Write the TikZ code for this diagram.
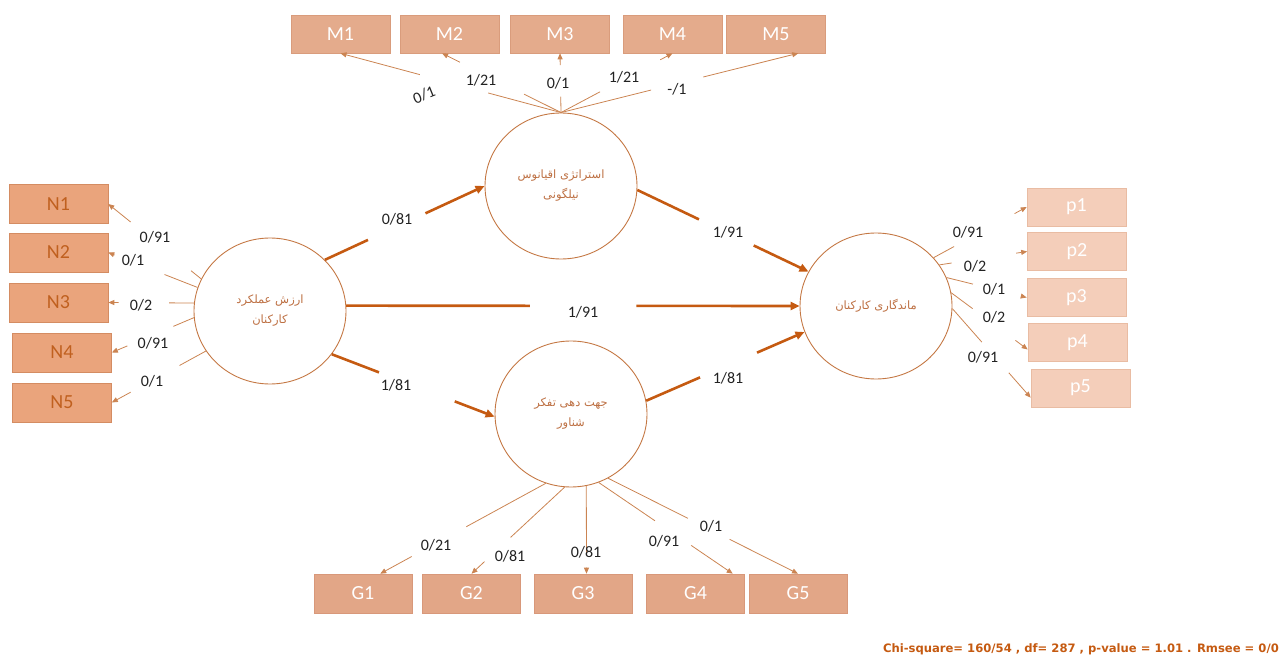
\documentclass[tikz,border=0pt]{standalone}
\usepackage{graphicx}
\usepackage{fontspec}
\setmainfont{Carlito}
\newfontfamily\fa[Script=Arabic]{DejaVu Sans}
\newfontfamily\statfont{DejaVu Sans}
\TeXXeTstate=1
\usetikzlibrary{arrows.meta,shapes.geometric}

\definecolor{pathc}{HTML}{C55A11}
\definecolor{loadc}{HTML}{CB8452}
\definecolor{circc}{HTML}{C47844}
\definecolor{circt}{HTML}{BD7043}
\definecolor{labc}{HTML}{222222}
\definecolor{nfill}{HTML}{EAA47C}
\definecolor{nedge}{HTML}{D48C62}
\definecolor{ntext}{HTML}{C0601F}
\definecolor{mfill}{HTML}{E4AB8C}
\definecolor{medge}{HTML}{D99C7C}
\definecolor{gfill}{HTML}{E2A687}
\definecolor{gedge}{HTML}{D8987A}
\definecolor{pfill}{HTML}{F4CEBA}
\definecolor{pedge}{HTML}{E9BCA3}

% line from #2 to #3 with a gap between pos #4 and pos #5; the second part carries the tip
\newcommand\gapline[5]{%
  \path (#2) -- coordinate[pos=#4] (g-a) coordinate[pos=#5] (g-b) (#3);
  \draw[#1,-] (#2) -- (g-a);
  \draw[#1] (g-b) -- (#3);}

\begin{document}
\begin{tikzpicture}[x=1pt,y=-1pt,
  lat/.style={ellipse, draw=circc, line width=0.9pt, minimum width=152pt,
    minimum height=146pt, inner sep=0pt, align=center, text=circt,
    font=\fa\fontsize{11.5}{20}\selectfont},
  box/.style={rectangle, minimum width=99pt, minimum height=38pt, inner sep=0pt,
    font=\fontsize{20}{20}\selectfont, line width=0.6pt},
  nbox/.style={box, fill=nfill, draw=nedge, text=ntext, minimum height=39pt},
  mbox/.style={box, fill=mfill, draw=medge, text=white},
  gbox/.style={box, fill=gfill, draw=gedge, text=white, minimum width=98pt, minimum height=39pt},
  pbox/.style={box, fill=pfill, draw=pedge, text=white},
  coef/.style={font=\fontsize{16}{16}\selectfont, text=labc, inner sep=1pt},
  structln/.style={draw=pathc, line width=2.6pt, -{Triangle[length=9pt,width=8pt]}},
  loadln/.style={draw=loadc, line width=0.8pt, -{Triangle[length=6pt,width=5pt]}}]

\useasboundingbox (0,0) rectangle (1282,660);

% latent constructs
\node[lat] (L) at (270,311) {\beginR ارزش عملکرد\endR\\\beginR کارکنان\endR};
\node[lat] (T) at (561,186) {\beginR استراتژی اقیانوس\endR\\\beginR نیلگونی\endR};
\node[lat] (B) at (571,414) {\beginR جهت دهی تفکر\endR\\\beginR شناور\endR};
\node[lat] (R) at (876,306) {\beginR ماندگاری کارکنان\endR};

% indicators
\node[mbox] (M1) at (340.5,34) {M1};
\node[mbox] (M2) at (449.5,34) {M2};
\node[mbox] (M3) at (560,34) {M3};
\node[mbox] (M4) at (672.5,34) {M4};
\node[mbox] (M5) at (776,34) {M5};

\node[nbox] (N1) at (58.5,204) {N1};
\node[nbox] (N2) at (58.5,252.5) {N2};
\node[nbox] (N3) at (58.5,302.5) {N3};
\node[nbox] (N4) at (62,352.5) {N4};
\node[nbox] (N5) at (62,402.5) {N5};

\node[pbox] (p1) at (1076.5,207) {p1};
\node[pbox] (p2) at (1077,251.5) {p2};
\node[pbox] (p3) at (1076.5,297.5) {p3};
\node[pbox] (p4) at (1077.5,342.5) {p4};
\node[pbox] (p5) at (1080.5,388) {p5};

\node[gbox] (G1) at (363,593.5) {G1};
\node[gbox] (G2) at (471.5,593.5) {G2};
\node[gbox] (G3) at (583,593.5) {G3};
\node[gbox] (G4) at (695.5,593.5) {G4};
\node[gbox] (G5) at (798,593.5) {G5};

% structural paths
\gapline{structln}{L.43}{T.180}{0.27}{0.63}
\gapline{structln}{T.-3}{R.153}{0.36}{0.68}
\gapline{structln}{L.4}{R.west}{0.405}{0.64}
\gapline{structln}{L.-35}{B.182}{0.29}{0.755}
\gapline{structln}{B.10}{R.-160}{0.34}{0.70}

\node[coef] (cLT) at (397,219) {0/81};
\node[coef] (cTR) at (728,232) {1/91};
\node[coef] (cLR) at (583,312) {1/91};
\node[coef] (cLB) at (396,385) {1/81};
\node[coef] (cBR) at (728,378) {1/81};

% loadings of the upper construct
\gapline{loadln}{T.north}{M1.south}{0.33}{0.64}
\gapline{loadln}{T.north}{M2.-111}{0.31}{0.85}
\gapline{loadln}{T.north}{M3.south}{0.27}{0.80}
\gapline{loadln}{T.north}{M4.south}{0.35}{0.89}
\gapline{loadln}{T.north}{M5.-41}{0.38}{0.60}
\node[coef] (cM1) at (424,95) {\rotatebox{22}{0/1}};
\node[coef] (cM2) at (481,80) {1/21};
\node[coef] (cM3) at (558,83) {0/1};
\node[coef] (cM4) at (624,77) {1/21};
\node[coef] (cM5) at (677,89) {-/1};

% loadings of the left construct
\gapline{loadln}{L.155}{N1.east}{0.11}{0.76}
\gapline{loadln}{L.162}{N2.east}{0.37}{0.93}
\gapline{loadln}{L.174}{N3.east}{0.29}{0.88}
\gapline{loadln}{L.185}{N4.east}{0.25}{0.81}
\gapline{loadln}{L.212}{N5.east}{0.28}{0.80}
\node[coef] (cN1) at (155,237) {0/91};
\node[coef] (cN2) at (133,260) {0/1};
\node[coef] (cN3) at (141,305) {0/2};
\node[coef] (cN4) at (153,343) {0/91};
\node[coef] (cN5) at (152,381) {0/1};

% loadings of the right construct
\gapline{loadln}{R.40}{p1.west}{0.22}{0.87}
\gapline{loadln}{R.33}{p2.west}{0.14}{0.875}
\gapline{loadln}{R.22}{p3.west}{0.33}{0.94}
\gapline{loadln}{R.10}{p4.188}{0.28}{0.84}
\gapline{loadln}{R.-2}{p5.191}{0.375}{0.72}
\node[coef] (cP1) at (968,232) {0/91};
\node[coef] (cP2) at (975,266) {0/2};
\node[coef] (cP3) at (994,289) {0/1};
\node[coef] (cP4) at (994,317) {0/2};
\node[coef] (cP5) at (983,357) {0/91};

% loadings of the lower construct
\gapline{loadln}{B.-110}{G1.49}{0.48}{0.81}
\gapline{loadln}{B.-95}{G2.north}{0.58}{0.86}
\gapline{loadln}{B.-78}{G3.80}{0.76}{0.93}
\gapline{loadln}{B.-68}{G4.28}{0.42}{0.69}
\gapline{loadln}{B.-60}{G5.north}{0.42}{0.64}
\node[coef] (cG1) at (436,545) {0/21};
\node[coef] (cG2) at (510,556) {0/81};
\node[coef] (cG3) at (586,552) {0/81};
\node[coef] (cG4) at (664,541) {0/91};
\node[coef] (cG5) at (711,526) {0/1};

% fit statistics
\node[anchor=east, inner sep=0pt, text=pathc, font=\statfont\bfseries\fontsize{11.6}{13}\selectfont]
  (fit) at (1279,649) {Chi-square= 160/54 , df= 287 , p-value = 1.01 . Rmsee = 0/0};
\end{tikzpicture}
\end{document}
